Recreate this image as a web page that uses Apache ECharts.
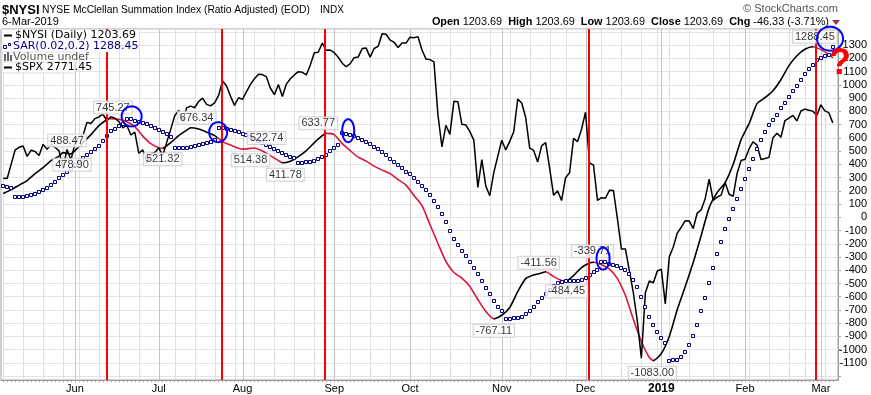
<!DOCTYPE html>
<html><head><meta charset="utf-8">
<script src="https://cdn.jsdelivr.net/npm/echarts@6/dist/echarts.min.js"></script>
<style>html,body{margin:0;padding:0;background:#fff}#c{width:871px;height:395px}</style>
</head><body><div id="c"></div>
<script>
// ---------- DATA (x = trading-day index, 0 = 7-May-2018 ... 208 = 6-Mar-2019) ----------
const monthIdx = [18, 39, 60, 83, 102, 125, 146, 165, 186, 205];
const monthLabels = ['Jun', 'Jul', 'Aug', 'Sep', 'Oct', 'Nov', 'Dec', '2019', 'Feb', 'Mar'];
const weekIdx = [0, 5, 10, 15, 19, 24, 29, 34, 43, 48, 53, 58, 63, 68, 73, 78, 87, 92, 97, 107, 112, 117, 122, 127, 132, 137, 141, 150, 155, 160, 164, 167, 172, 178, 182, 187, 192, 197, 201, 206];
const yTicks = [-1100, -1000, -900, -800, -700, -600, -500, -400, -300, -200, -100, 0, 100, 200, 300, 400, 500, 600, 700, 800, 900, 1000, 1100, 1200, 1300];

const nysiIdx = [0,2,4,6,8,10,12,14,15,17,18,20,22,24,26,27,29,31,33,35,37,39,40,42,44,46,47,49,51,53,55,57,60,63,65,67,69,70,72,74,76,78,80,81,83,85,87,89,91,93,95,97,99,101,103,105,107,109,111,113,115,117,119,121,123,125,127,129,131,133,135,136,138,140,141,143,145,147,148,150,152,154,156,158,160,162,163,165,167,169,171,173,175,177,179,181,183,185,187,189,191,193,195,197,199,201,203,205,207,208];
const nysiVals = [179,209,243,277,330,375,428,462,488.47,478.90,503,564,624,692,737,745.27,741,722,684,613,556,526,521.32,564,617,658,676.34,666,643,617,571,545,514.38,522.74,500,466,428,411.78,424,458,503,564,617,633.77,624,556,503,454,424,386,356,330,285,243,164,88,-55,-198,-334,-417,-459,-523,-621,-712,-767.11,-740,-681,-561,-463,-436,-421,-411.56,-448,-478,-484.45,-440,-380,-346,-339.71,-358,-391,-463,-591,-772,-938,-1059,-1083,-1029,-900,-697,-523,-342,-138,73,186,262,398,586,707,858,903,956,1039,1145,1220,1269,1288.45,1266,1228,1203.69];

const sarVals = [
 234,232,224,154,154,156,160,165,175,188,
 203,220,243,267,294,318,343,368,398,424,
 448,473,492,515,541,575,613,649,669,688,
 707,745.27,744,730,722,712,701,688,673,660,
 645,628,609,521.32,521.32,522,526,530,536,543,
 550,559,571,586,676.34,672,666,658,651,643,
 632,620,605,590,575,560,545,530,515,500,
 485,469,456,445,411.78,413,416,421,428,437,
 454,471,498,522,549,633.77,632,624,613,601,
 586,571,552,534,515,492,469,443,418,395,
 375,345,325,300,269,239,207,169,124,81,
 28,-32,-100,-163,-206,-251,-294,-337,-382,-432,
 -483,-533,-583,-634,-676,-709,-767.11,-766,-763,-759,
 -752,-734,-709,-676,-641,-608,-583,-546,-521,-500,
 -491,-484.45,-484.45,-484.45,-482,-470,-457,-438,-415,-395,
 -339.71,-340,-352,-357,-370,-382,-395,-425,-470,-525,
 -604,-676,-752,-817,-868,-910,-948,-1083,-1081,-1079,
 -1057,-1019,-961,-893,-810,-709,-608,-495,-382,-276,
 -186,-89,-12,63,141,214,292,368,441,518,
 586,645,700,737,775,826,863,909,956,994,
 1039,1085,1120,1152,1185,1203,1220,1228,1288.45];

const spxVals = [
 2672.63,2671.92,2697.79,2723.07,2727.72,2730.13,2711.45,2722.46,2720.13,2712.97,
 2733.01,2724.44,2733.29,2727.76,2721.33,2689.86,2724.01,2705.27,2734.62,2746.87,
 2748.80,2772.35,2770.37,2779.03,2782.00,2786.85,2775.63,2782.49,2779.66,2773.75,
 2762.59,2767.32,2749.76,2754.88,2717.07,2723.06,2699.63,2716.31,2718.37,2726.71,
 2713.22,2736.61,2759.82,2784.17,2793.84,2774.02,2798.29,2801.31,2798.43,2809.55,
 2815.62,2804.49,2801.83,2806.98,2820.40,2846.07,2837.44,2818.82,2802.60,2816.29,
 2813.36,2827.22,2840.35,2850.40,2858.45,2857.70,2853.58,2833.28,2821.93,2839.96,
 2818.37,2840.69,2850.13,2857.05,2862.96,2861.82,2856.98,2874.69,2896.74,2897.52,
 2914.04,2901.13,2901.52,2896.72,2888.60,2878.05,2871.68,2877.13,2887.89,2888.92,
 2904.18,2904.98,2888.80,2904.31,2907.95,2930.75,2929.67,2919.37,2915.56,2905.97,
 2914.00,2913.98,2924.59,2923.43,2925.51,2901.61,2885.57,2884.43,2880.34,2785.68,
 2728.37,2767.13,2750.79,2809.92,2809.21,2768.78,2767.78,2755.88,2740.69,2656.10,
 2705.57,2658.69,2641.25,2682.63,2711.74,2740.37,2723.06,2738.31,2755.45,2813.89,
 2806.83,2781.01,2726.22,2722.18,2701.58,2730.20,2736.27,2690.73,2641.89,2649.93,
 2632.56,2673.45,2682.17,2743.79,2737.80,2760.17,2790.37,2700.06,2695.95,2633.08,
 2637.72,2636.78,2651.07,2650.54,2599.95,2545.94,2546.16,2506.96,2467.42,2416.62,
 2351.10,2467.70,2488.83,2485.74,2506.85,2510.03,2447.89,2531.94,2549.69,2574.41,
 2584.96,2596.64,2596.26,2582.61,2610.30,2616.10,2635.96,2670.71,2632.90,2638.70,
 2642.33,2664.76,2643.85,2640.00,2681.05,2704.10,2706.53,2724.87,2737.70,2731.61,
 2706.05,2707.88,2709.80,2744.73,2753.03,2745.73,2775.60,2779.76,2784.70,2774.88,
 2792.67,2796.11,2793.90,2792.38,2784.49,2803.69,2792.81,2789.65,2771.45];

// falling stretches of the NYSI line drawn in red (day-index ranges)
const redSegments = [[26, 40], [53.5, 70], [81, 123], [136, 141], [148, 163], [203, 208]];
// red vertical signal lines (day index)
const signalIdx = [26, 54.8, 80.7, 146.9, 203.7];
// swing high / low labels
const swingIdx = [15, 17, 27, 40, 47, 60, 63, 70, 81, 123, 136, 141, 148, 163, 203];
const swingVals = [488.47, 478.90, 745.27, 521.32, 676.34, 514.38, 522.74, 411.78, 633.77, -767.11, -411.56, -484.45, -339.71, -1083.00, 1288.45];
// blue hand-drawn circles (centre in data units)
const circleIdx = [32.2, 53.9, 86.5, 150.4, 207.3];
const circleVals = [762, 643, 654, -312, 1349];

// ---------- LAYOUT / STYLE ----------
const swingOffsets = [[4,-12],[1,11],[2,-11],[0,11],[6,-10],[8,11],[12,-10],[3,12],[-8,-10],[0,12],[-7,-9],[1,10],[-1,-11],[-1,12],[2,-10]];
const circleRadii = [[10,10],[9,10],[6,11.5],[6.5,11],[13,12]];
const SANS = '"Liberation Sans", Arial, sans-serif';
const VERD = '"DejaVu Sans", Verdana, sans-serif';
const RED = '#dc143c';
const NAVY = '#000080';

const dayIdx = sarVals.map((v, i) => i);

const chart = echarts.init(document.getElementById('c'), null, {renderer: 'canvas'});

function vline(colorFn, width) {
  return function (params, api) {
    const cs = params.coordSys;
    const x = Math.round(api.coord([api.value(0), 0])[0]) + (width % 2 ? 0.5 : 0);
    return {type: 'line', silent: true,
      shape: {x1: x, y1: cs.y, x2: x, y2: cs.y + cs.height},
      style: {stroke: colorFn(api), lineWidth: width}};
  };
}

const option = {
  animation: false,
  backgroundColor: '#fff',
  grid: {left: 1, right: 33, top: 29, bottom: 14.5, show: true, borderColor: '#a0a0a0', borderWidth: 1, backgroundColor: '#fff'},
  xAxis: {
    type: 'value', min: -0.55, max: 209.3,
    splitLine: {show: false},
    axisLine: {onZero: false, lineStyle: {color: '#a0a0a0'}},
    axisTick: {customValues: dayIdx, length: 2, lineStyle: {color: '#a0a0a0'}},
    axisLabel: {customValues: monthIdx, margin: 3, fontSize: 11, fontFamily: SANS, color: '#000',
      formatter: v => { const k = monthIdx.indexOf(Math.round(v)); if (k < 0) return ''; const t = monthLabels[k]; return t === '2019' ? '{b|2019}' : t; },
      rich: {b: {fontWeight: 'bold', fontSize: 12, fontFamily: SANS, color: '#000'}}}
  },
  yAxis: [{
    type: 'value', position: 'right', min: -1229, max: 1422, splitNumber: 26, minInterval: 100, maxInterval: 100,
    axisLine: {show: true, onZero: false, lineStyle: {color: '#a0a0a0'}},
    axisTick: {show: true, length: 3, lineStyle: {color: '#a0a0a0'}},
    splitLine: {show: true, lineStyle: {color: '#e3e3e3'}},
    axisLabel: {align: 'right', margin: 29, fontSize: 11, fontFamily: SANS, color: '#000', showMinLabel: false, showMaxLabel: false,
      formatter: v => (yTicks.indexOf(Math.round(v)) >= 0 ? String(Math.round(v)) : '')}
  }, {
    type: 'value', show: false, min: 2312, max: 2939.14, splitLine: {show: false}
  }],
  visualMap: {type: 'piecewise', show: false, seriesIndex: 1, dimension: 0,
    pieces: redSegments.map(s => ({gte: s[0], lte: s[1], color: RED})),
    outOfRange: {color: '#000'}},
  series: [
    {type: 'custom', name: 'grid', z: 1, silent: true,
      data: weekIdx.map(i => [i, 0, 0]).concat(monthIdx.map(i => [i, 0, 1])),
      renderItem: vline(api => api.value(2) ? '#c4c4c4' : '#e0e0e0', 1)},
    {type: 'line', name: 'NYSI', z: 3, showSymbol: false, smooth: 0.2,
      data: nysiIdx.map((d, i) => [d, nysiVals[i]]), lineStyle: {width: 1.6}},
    {type: 'line', name: 'SPX', yAxisIndex: 1, z: 3, showSymbol: false, color: '#000',
      data: spxVals.map((v, i) => [i, v]), lineStyle: {width: 1.5, color: '#000'}},
    {type: 'custom', name: 'SAR', z: 4, silent: true,
      data: sarVals.map((v, i) => [i, v]),
      renderItem: (params, api) => {
        const c = api.coord([api.value(0), api.value(1)]);
        return {type: 'rect', shape: {x: Math.round(c[0]) - 1.5, y: Math.round(c[1]) - 1.5, width: 3, height: 3},
          style: {fill: '#fff', stroke: NAVY, lineWidth: 1}};
      }},
    {type: 'custom', name: 'signals', z: 6, silent: true,
      data: signalIdx.map(i => [i, 0]),
      renderItem: vline(() => '#ff0000', 2)},
    {type: 'scatter', name: 'swings', z: 7, symbolSize: 0,
      data: swingIdx.map((d, i) => ({value: [d, swingVals[i]], label: {offset: swingOffsets[i]}})),
      label: {show: true, position: 'inside', formatter: p => p.value[1].toFixed(2),
        fontSize: 11, fontFamily: SANS, color: '#000', backgroundColor: '#fff',
        borderColor: '#c8c8c8', borderWidth: 1, padding: [1, 2, 0, 2]}},
    {type: 'custom', name: 'circles', z: 8, silent: true,
      data: circleIdx.map((d, i) => [d, circleVals[i]]),
      renderItem: (params, api) => {
        const c = api.coord([api.value(0), api.value(1)]);
        const r = circleRadii[params.dataIndex];
        const pts = [];
        for (let k = 0; k < 60; k++) { const a = k / 60 * Math.PI * 2; pts.push([c[0] + r[0] * Math.cos(a), c[1] + r[1] * Math.sin(a)]); }
        return {type: 'polygon', shape: {points: pts}, style: {fill: 'none', stroke: '#0000ff', lineWidth: 2}};
      }}
  ],
  graphic: [
    {type: 'text', x: 2, y: 10, z: 20, style: {text: '$NYSI', font: 'bold 13px ' + SANS, fill: '#000', textVerticalAlign: 'middle'}},
    {type: 'text', x: 42, y: 10, z: 20, style: {text: 'NYSE McClellan Summation Index (Ratio Adjusted) (EOD)', font: '10.3px ' + SANS, fill: '#000', textVerticalAlign: 'middle'}},
    {type: 'text', x: 320, y: 10, z: 20, style: {text: 'INDX', font: '10px ' + SANS, fill: '#000', textVerticalAlign: 'middle'}},
    {type: 'text', x: 2, y: 22, z: 20, style: {text: '6-Mar-2019', font: '11px ' + SANS, fill: '#000', textVerticalAlign: 'middle'}},
    {type: 'text', x: 838, y: 9, z: 20, style: {text: '\u00a9 StockCharts.com', font: '11px ' + SANS, fill: '#555', textAlign: 'right', textVerticalAlign: 'middle'}},
    {type: 'text', x: 829, y: 22, z: 20, style: {
      text: '{b|Open} 1203.69  {b|High} 1203.69  {b|Low} 1203.69  {b|Close} 1203.69  {b|Chg} -46.33 (-3.71%)',
      font: '10.9px ' + SANS, fill: '#000', textAlign: 'right', textVerticalAlign: 'middle',
      rich: {b: {font: 'bold 10.9px ' + SANS, fill: '#000'}}}},
    {type: 'polygon', z: 20, shape: {points: [[832, 20], [840, 20], [836, 25]]}, style: {fill: '#993344'}},
    // legend
    {type: 'rect', z: 15, shape: {x: 2, y: 30, width: 137, height: 11}, style: {fill: '#fff'}},
    {type: 'rect', z: 15, shape: {x: 2, y: 41, width: 110, height: 11}, style: {fill: '#fff'}},
    {type: 'rect', z: 15, shape: {x: 2, y: 52, width: 75, height: 11}, style: {fill: '#fff', stroke: '#ddd'}},
    {type: 'rect', z: 15, shape: {x: 2, y: 62, width: 73, height: 11}, style: {fill: '#fff', stroke: '#ddd'}},
    {type: 'line', z: 16, shape: {x1: 4, y1: 35.5, x2: 12, y2: 35.5}, style: {stroke: '#000', lineWidth: 2}},
    {type: 'text', x: 15, y: 35.5, z: 16, style: {text: '$NYSI (Daily) 1203.69', font: '11px ' + VERD, fill: '#000', textVerticalAlign: 'middle'}},
    {type: 'rect', z: 16, shape: {x: 3.5, y: 45.5, width: 3, height: 3}, style: {fill: '#fff', stroke: NAVY, lineWidth: 1}},
    {type: 'rect', z: 16, shape: {x: 8.5, y: 43.5, width: 2, height: 2}, style: {fill: '#fff', stroke: NAVY, lineWidth: 1}},
    {type: 'text', x: 13, y: 46.5, z: 16, style: {text: 'SAR(0.02,0.2) 1288.45', font: '11px ' + VERD, fill: '#00008b', textVerticalAlign: 'middle'}},
    {type: 'rect', z: 16, shape: {x: 4, y: 54, width: 2, height: 7}, style: {fill: '#666'}},
    {type: 'rect', z: 16, shape: {x: 7, y: 52, width: 2, height: 9}, style: {fill: '#666'}},
    {type: 'rect', z: 16, shape: {x: 10, y: 55, width: 2, height: 6}, style: {fill: '#666'}},
    {type: 'text', x: 13, y: 57, z: 16, style: {text: 'Volume undef', font: '11px ' + VERD, fill: '#555', textVerticalAlign: 'middle'}},
    {type: 'line', z: 16, shape: {x1: 4, y1: 67.5, x2: 12, y2: 67.5}, style: {stroke: '#000', lineWidth: 2}},
    {type: 'text', x: 15, y: 67.5, z: 16, style: {text: '$SPX 2771.45', font: '11px ' + VERD, fill: '#000', textVerticalAlign: 'middle'}},
    // red question mark
    {type: 'text', x: 840, y: 64, z: 30, style: {text: '?', font: 'bold 36px "Liberation Sans Narrow", ' + SANS, fill: '#ff0000', textAlign: 'center', textVerticalAlign: 'middle'}}
  ]
};
chart.setOption(option);
</script>
</body></html>
